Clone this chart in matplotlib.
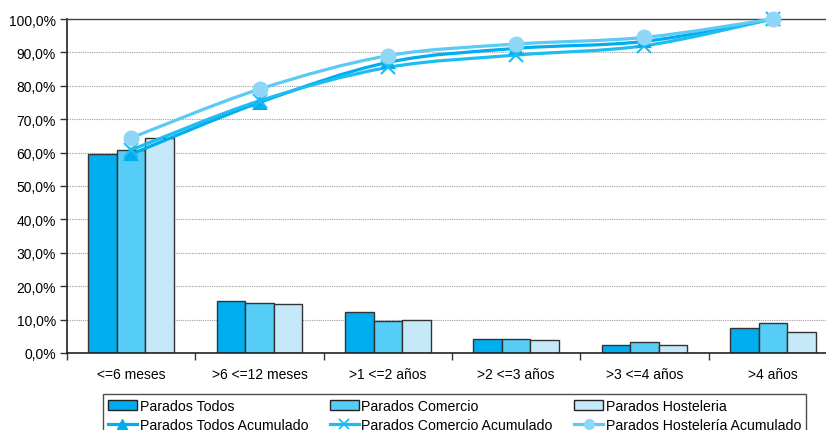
import numpy as np
import matplotlib
matplotlib.use("Agg")
import matplotlib.pyplot as plt
from matplotlib.path import Path
from matplotlib.patches import PathPatch, Patch
from matplotlib.lines import Line2D
from matplotlib.ticker import FuncFormatter, MultipleLocator

plt.rcParams["font.family"] = ["Liberation Sans", "DejaVu Sans"]

categories = ["<=6 meses", ">6 <=12 meses", ">1 <=2 años", ">2 <=3 años", ">3 <=4 años", ">4 años"]

todos = [59.5, 15.5, 12.3, 4.3, 2.5, 7.4]
comercio = [60.8, 15.0, 9.7, 4.2, 3.2, 8.9]
hosteleria = [64.4, 14.8, 10.0, 3.9, 2.3, 6.2]

todos_acum = [59.5, 75.0, 87.0, 91.2, 93.3, 100.0]
comercio_acum = [60.8, 75.5, 85.5, 89.2, 92.0, 100.0]
hosteleria_acum = [64.4, 79.0, 89.0, 92.5, 94.5, 100.0]

C_TODOS = "#00aeef"
C_COM = "#55cdf6"
C_HOST = "#c6e9f9"
L_TODOS = "#00aeef"
L_COM = "#1cbdf2"
L_HOST = "#5ccaf4"
M_HOST = "#8ed7f6"


def smooth_path(xs, ys, t=1 / 6.0):
    """Bezier path through the points (Excel-like smoothed line)."""
    pts = np.column_stack([xs, ys]).astype(float)
    verts = [pts[0]]
    codes = [Path.MOVETO]
    n = len(pts)
    for i in range(n - 1):
        p0 = pts[i - 1] if i > 0 else pts[i]
        p1 = pts[i]
        p2 = pts[i + 1]
        p3 = pts[i + 2] if i + 2 < n else pts[i + 1]
        c1 = p1 + (p2 - p0) * t
        c2 = p2 - (p3 - p1) * t
        verts += [c1, c2, p2]
        codes += [Path.CURVE4] * 3
    return Path(verts, codes)


fig = plt.figure(figsize=(8.26, 4.31), dpi=100)
ax = fig.add_axes([67 / 826, 77 / 431, 770 / 826, 334 / 431])

x = np.arange(len(categories))
w = 0.222
bar_kw = dict(edgecolor="#333333", linewidth=1.0, zorder=2)
ax.bar(x - w, todos, w, color=C_TODOS, **bar_kw)
ax.bar(x, comercio, w, color=C_COM, **bar_kw)
ax.bar(x + w, hosteleria, w, color=C_HOST, **bar_kw)

ax.set_xlim(-0.5, len(categories) - 0.5)
ax.set_ylim(0, 100)

series = [
    (todos_acum, L_TODOS, "^", L_TODOS, 9),
    (comercio_acum, L_COM, "x", L_COM, 10),
    (hosteleria_acum, L_HOST, "o", M_HOST, 10),
]
for vals, lc, mk, mc, ms in series:
    ax.add_patch(PathPatch(smooth_path(x, vals), facecolor="none", edgecolor=lc,
                           linewidth=2.3, zorder=3, clip_on=False))
    ax.plot(x, vals, linestyle="none", marker=mk, color=mc, markersize=ms,
            markeredgewidth=1.5, zorder=4, clip_on=False)

ax.yaxis.set_major_locator(MultipleLocator(10))
ax.yaxis.set_major_formatter(FuncFormatter(lambda v, p: f"{v:.1f}%".replace(".", ",")))
ax.grid(axis="y", color="#a0a0a0", linestyle=(0, (1, 1)), linewidth=0.8, zorder=0)
ax.set_axisbelow(True)

ax.set_xticks(x)
ax.set_xticklabels(categories)
ax.set_xticks(np.arange(len(categories) + 1) - 0.5, minor=True)
ax.tick_params(axis="x", which="major", length=0, pad=10, labelsize=10)
ax.tick_params(axis="x", which="minor", length=5, width=1, color="#333333")
ax.tick_params(axis="y", length=5, width=1, color="#333333", labelsize=10, pad=3)

for s in ["left", "bottom"]:
    ax.spines[s].set_color("#222222")
    ax.spines[s].set_linewidth(1.2)
ax.spines["top"].set_color("#444444")
ax.spines["top"].set_linewidth(1.0)
ax.spines["right"].set_visible(False)

handles = [
    Patch(facecolor=C_TODOS, edgecolor="#222222", label="Parados Todos"),
    Line2D([], [], color=L_TODOS, lw=2.3, marker="^", ms=7, label="Parados Todos Acumulado"),
    Patch(facecolor=C_COM, edgecolor="#222222", label="Parados Comercio"),
    Line2D([], [], color=L_COM, lw=2.3, marker="x", ms=7, mew=1.3, label="Parados Comercio Acumulado"),
    Patch(facecolor=C_HOST, edgecolor="#222222", label="Parados Hosteleria"),
    Line2D([], [], color=L_HOST, lw=2.3, marker="o", mfc=M_HOST, mec=M_HOST, ms=7,
           label="Parados Hostelería Acumulado"),
]
leg = fig.legend(handles=handles, ncol=3, loc="upper left",
                 bbox_to_anchor=(103 / 826, 1 - 395 / 431), fontsize=10.2,
                 frameon=True, fancybox=False, edgecolor="#222222",
                 handlelength=2.05, handletextpad=0.2, columnspacing=1.5,
                 borderpad=0.35, labelspacing=0.38, borderaxespad=0)
leg.get_frame().set_linewidth(1.0)

fig.savefig("out.png", dpi=100)
